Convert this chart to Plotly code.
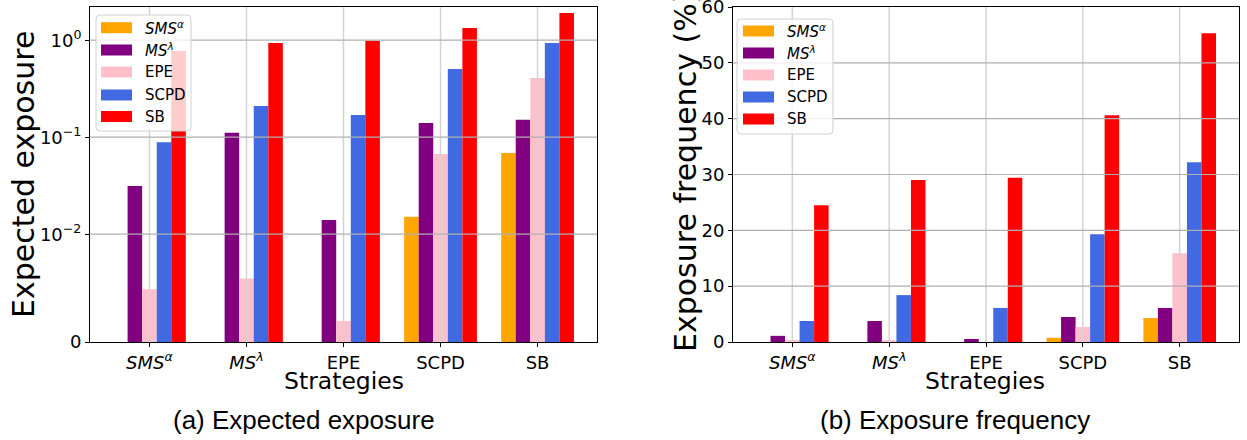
import math
import plotly.graph_objects as go

# ---------------- data ----------------
categories = ["SMSα", "MSλ", "EPE", "SCPD", "SB"]
tick_labels = ["<i>SMS</i><sup><i>α</i></sup>", "<i>MS</i><sup><i>λ</i></sup>", "EPE", "SCPD", "SB"]
series_names = ["SMSα", "MSλ", "EPE", "SCPD", "SB"]
series_labels = ["<i>SMS</i><sup><i>α</i></sup>", "<i>MS</i><sup><i>λ</i></sup>", "EPE", "SCPD", "SB"]
series_colors = ["orange", "purple", "pink", "royalblue", "red"]

# (a) expected exposure, one list per strategy series, values per category
exposure_sms = [0.0, 0.0, 0.0, 0.0151, 0.0688]
exposure_ms = [0.0314, 0.111, 0.014, 0.140, 0.151]
exposure_epe = [0.0049, 0.0059, 0.00195, 0.067, 0.408]
exposure_scpd = [0.089, 0.21, 0.169, 0.505, 0.935]
exposure_sb = [0.774, 0.935, 0.99, 1.34, 1.91]

# (b) exposure frequency (%)
freq_sms = [0.0, 0.0, 0.0, 0.77, 4.3]
freq_ms = [1.1, 3.76, 0.54, 4.48, 6.1]
freq_epe = [0.2, 0.2, 0.0, 2.69, 15.9]
freq_scpd = [3.76, 8.4, 6.1, 19.3, 32.2]
freq_sb = [24.5, 29.0, 29.4, 40.6, 55.3]

left_tick_values = [0, 0.01, 0.1, 1]
left_tick_text = ["0", "10<sup>−2</sup>", "10<sup>−1</sup>", "10<sup>0</sup>"]
right_tick_values = [0, 10, 20, 30, 40, 50, 60]

exposure = [exposure_sms, exposure_ms, exposure_epe, exposure_scpd, exposure_sb]
frequency = [freq_sms, freq_ms, freq_epe, freq_scpd, freq_sb]

# symlog transform (matplotlib style: linthresh=0.01, linscale=1, base 10)
LINTHRESH = 0.01
LINSCALE_ADJ = 1.0 / (1.0 - 1.0 / 10.0)


def symlog(v):
    if v <= LINTHRESH:
        return v / LINTHRESH * LINSCALE_ADJ
    return LINSCALE_ADJ + math.log10(v / LINTHRESH)


# ---------------- geometry ----------------
W, H = 1247, 440
FONT = "DejaVu Sans"
x_left = [90 / W, 597 / W]
x_right = [733 / W, 1239 / W]
y_dom = [1 - 342 / H, 1 - 7 / H]
BAR_W = 0.15

fig = go.Figure()

for i in range(5):
    off = -0.375 + i * BAR_W
    fig.add_trace(go.Bar(
        x=categories, y=[symlog(v) for v in exposure[i]],
        customdata=exposure[i], hovertemplate="%{x}: %{customdata}<extra>" + series_names[i] + "</extra>",
        width=BAR_W, offset=off, marker=dict(color=series_colors[i], line=dict(width=0)),
        name=series_names[i], showlegend=False, xaxis="x", yaxis="y"))
    fig.add_trace(go.Bar(
        x=categories, y=frequency[i],
        width=BAR_W, offset=off, marker=dict(color=series_colors[i], line=dict(width=0)),
        name=series_names[i], showlegend=False, xaxis="x2", yaxis="y2"))

axis_common = dict(showline=True, linecolor="black", linewidth=1, mirror=True,
                   ticks="outside", ticklen=4, tickcolor="black", showgrid=False,
                   zeroline=False, automargin=False, ticklabeloverflow="allow",
                   tickfont=dict(family=FONT, size=18, color="black"))

cat_range = [-0.6125, 4.6125]
fig.update_layout(
    width=W, height=H, autosize=False, margin=dict(l=0, r=0, t=0, b=0, pad=0),
    paper_bgcolor="white", plot_bgcolor="white", barmode="overlay",
    font=dict(family=FONT, color="black"),
    xaxis=dict(domain=x_left, anchor="y", type="category", categoryorder="array",
               categoryarray=categories, range=cat_range, tickvals=categories,
               ticktext=tick_labels, **axis_common),
    yaxis=dict(domain=y_dom, anchor="x", range=[0, (342 - 7) / 97],
               tickvals=[symlog(v) for v in left_tick_values], ticktext=left_tick_text,
               **axis_common),
    xaxis2=dict(domain=x_right, anchor="y2", type="category", categoryorder="array",
                categoryarray=categories, range=cat_range, tickvals=categories,
                ticktext=tick_labels, **axis_common),
    yaxis2=dict(domain=y_dom, anchor="x2", range=[0, 60], tickvals=right_tick_values,
                **axis_common),
)

# grid lines drawn above bars (as in the reference)
shapes = []
for xa, ya, yticks, ymax in [("x", "y", [symlog(v) for v in left_tick_values], 99),
                             ("x2", "y2", right_tick_values, 60)]:
    for i in range(len(categories)):
        shapes.append(dict(type="line", layer="above", xref=xa, yref=ya + " domain",
                           x0=i, x1=i, y0=0, y1=1, line=dict(color="#d3d3d3", width=1.5)))
    for t in yticks[1:]:
        if t >= ymax:
            continue
        shapes.append(dict(type="line", layer="above", xref=xa + " domain", yref=ya,
                           x0=0, x1=1, y0=t, y1=t, line=dict(color="#b0b0b0", width=1.2)))


def rounded_rect(x0, x1, y0, y1, r=4):
    """Path in paper coords for a box given in pixels (top-left origin)."""
    px = lambda v: v / W
    py = lambda v: 1 - v / H
    return (f"M {px(x0 + r)},{py(y0)} L {px(x1 - r)},{py(y0)} Q {px(x1)},{py(y0)} {px(x1)},{py(y0 + r)} "
            f"L {px(x1)},{py(y1 - r)} Q {px(x1)},{py(y1)} {px(x1 - r)},{py(y1)} "
            f"L {px(x0 + r)},{py(y1)} Q {px(x0)},{py(y1)} {px(x0)},{py(y1 - r)} "
            f"L {px(x0)},{py(y0 + r)} Q {px(x0)},{py(y0)} {px(x0 + r)},{py(y0)} Z")


annotations = []
# matplotlib-like legends
for (bx0, bx1, by0, by1, rx0, rx1, tx, rows) in [
        (96, 191, 15, 131, 101, 132, 143, [27.7, 50, 72, 95, 116.5]),
        (737, 833, 19, 134, 743, 774, 785, [31, 53, 75, 97, 119])]:
    shapes.append(dict(type="path", layer="above", xref="paper", yref="paper",
                       path=rounded_rect(bx0, bx1, by0, by1),
                       fillcolor="rgba(255,255,255,0.8)", line=dict(color="rgba(204,204,204,0.9)", width=1)))
    for i, yc in enumerate(rows):
        shapes.append(dict(type="rect", layer="above", xref="paper", yref="paper",
                           x0=rx0 / W, x1=rx1 / W, y0=1 - (yc + 5.5) / H, y1=1 - (yc - 5.5) / H,
                           fillcolor=series_colors[i], line=dict(width=0)))
        annotations.append(dict(xref="paper", yref="paper", x=tx / W, y=1 - yc / H,
                                xanchor="left", yanchor="middle", showarrow=False,
                                text=series_labels[i], font=dict(family=FONT, size=15, color="black")))

# axis titles and captions
annotations += [
    dict(xref="paper", yref="paper", x=23 / W, y=1 - 175 / H, textangle=-90, showarrow=False,
         xanchor="center", yanchor="middle", text="Expected exposure",
         font=dict(family=FONT, size=30, color="black")),
    dict(xref="paper", yref="paper", x=686 / W, y=1 - 172 / H, textangle=-90, showarrow=False,
         xanchor="center", yanchor="middle", text="Exposure frequency (%)",
         font=dict(family=FONT, size=30, color="black")),
    dict(xref="paper", yref="paper", x=344 / W, y=1 - 381 / H, showarrow=False,
         xanchor="center", yanchor="middle", text="Strategies",
         font=dict(family=FONT, size=23.5, color="black")),
    dict(xref="paper", yref="paper", x=985 / W, y=1 - 381 / H, showarrow=False,
         xanchor="center", yanchor="middle", text="Strategies",
         font=dict(family=FONT, size=23.5, color="black")),
    dict(xref="paper", yref="paper", x=304 / W, y=1 - 420 / H, showarrow=False,
         xanchor="center", yanchor="middle", text="(a) Expected exposure",
         font=dict(family="Liberation Sans", size=26, color="black")),
    dict(xref="paper", yref="paper", x=955 / W, y=1 - 420 / H, showarrow=False,
         xanchor="center", yanchor="middle", text="(b) Exposure frequency",
         font=dict(family="Liberation Sans", size=26, color="black")),
]

fig.update_layout(shapes=shapes, annotations=annotations)
fig.write_html("out.html")
